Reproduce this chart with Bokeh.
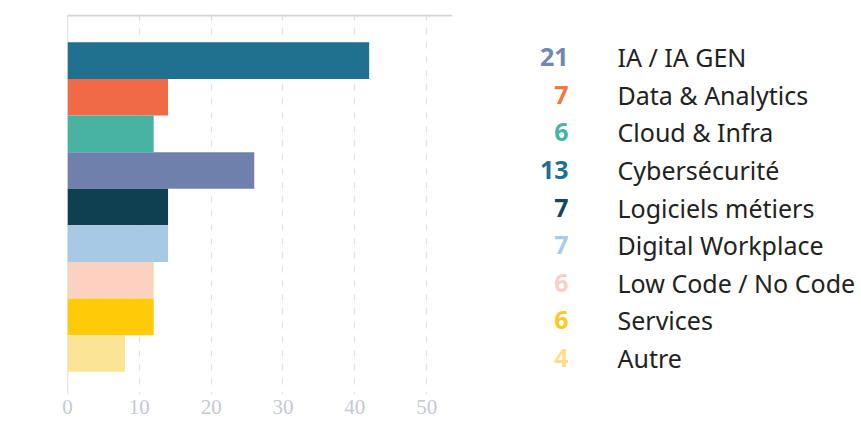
from bokeh.plotting import figure
from bokeh.models import Range1d, FixedTicker, Span, ColumnDataSource
from bokeh.layouts import row
from bokeh.embed import file_html
from bokeh.resources import INLINE
from bokeh.core.properties import value

categories = ["IA / IA GEN", "Data & Analytics", "Cloud & Infra", "Cybersécurité",
              "Logiciels métiers", "Digital Workplace", "Low Code / No Code",
              "Services", "Autre"]
counts = [21, 7, 6, 13, 7, 7, 6, 6, 4]
bar_values = [42, 14, 12, 26, 14, 14, 12, 12, 8]
bar_colors = ["#20708f", "#f06a45", "#48b3a3", "#6f80ad", "#0f4051",
              "#a8c9e6", "#fbd2bf", "#fdcb07", "#fbe495"]
count_colors = ["#7088b0", "#f07a3c", "#47b3a4", "#1c7192", "#15475a",
                "#a9cce8", "#f7d0c8", "#fdc926", "#fcdf86"]
x_ticks = [0, 10, 20, 30, 40, 50]

idx = list(range(len(categories)))

FRAME_TOP = 14
FRAME_H = 380
BOTTOM = 29

# ---- bar chart ----
p1 = figure(frame_width=385, frame_height=FRAME_H, output_backend="svg",
            toolbar_location=None,
            x_range=Range1d(0, 53.6), y_range=Range1d(8.5 + 0.62, -0.5 - 0.76),
            min_border_left=67, min_border_right=8, min_border_top=FRAME_TOP,
            min_border_bottom=BOTTOM)
p1.outline_line_color = None
p1.background_fill_color = "white"
p1.border_fill_color = "white"

src = ColumnDataSource(dict(y=idx, right=bar_values, color=bar_colors, cat=categories))
p1.hbar(y="y", right="right", left=0, height=1.0, fill_color="color",
        line_color=None, source=src)

p1.yaxis.visible = False
p1.ygrid.visible = False
p1.xgrid.ticker = FixedTicker(ticks=x_ticks)
p1.xgrid.grid_line_color = "#dfe0e6"
p1.xgrid.grid_line_dash = "6 8"
p1.xgrid.grid_line_width = 1.2

xa = p1.xaxis[0]
xa.ticker = FixedTicker(ticks=x_ticks)
xa.axis_line_color = None
xa.major_tick_line_color = None
xa.major_tick_out = 0
xa.major_tick_in = 0
xa.minor_tick_line_color = None
xa.major_label_standoff = 5
xa.major_label_text_font = "Liberation Serif"
xa.major_label_text_font_size = "21px"
xa.major_label_text_color = "#c5c8d6"

top_line = Span(location=-1.23, dimension="width", line_color="#d4d4d8", line_width=2)
left_line = Span(location=0, dimension="height", line_color="#cfd0d6", line_width=1.5,
                 level="underlay")
p1.add_layout(top_line)
p1.add_layout(left_line)

# ---- legend panel (data units = page pixels, aligned to p1's frame) ----
P2_W = 400
p2 = figure(frame_width=P2_W, frame_height=FRAME_H, output_backend="svg",
            toolbar_location=None,
            x_range=Range1d(460, 460 + P2_W),
            y_range=Range1d(FRAME_TOP + FRAME_H, FRAME_TOP),
            min_border_left=0, min_border_right=0, min_border_top=FRAME_TOP,
            min_border_bottom=BOTTOM)
p2.outline_line_color = None
p2.axis.visible = False
p2.grid.visible = False

row_first = 56.7
row_pitch = 37.6
ys = [row_first + i * row_pitch for i in idx]
lsrc = ColumnDataSource(dict(y=ys, num=[str(c) for c in counts], color=count_colors,
                             cat=categories))
p2.text(x=568, y="y", text="num", text_color="color", source=lsrc,
        text_font=value("Noto Sans"), text_font_style="bold",
        text_font_size="25px", text_align="right", text_baseline="middle")
p2.text(x=617, y="y", text="cat", text_color="#222222", source=lsrc,
        text_font=value("Noto Sans"), text_font_size="25px",
        text_align="left", text_baseline="middle")

layout = row(p1, p2, spacing=0)
open("out.html", "w").write(file_html(layout, INLINE))
